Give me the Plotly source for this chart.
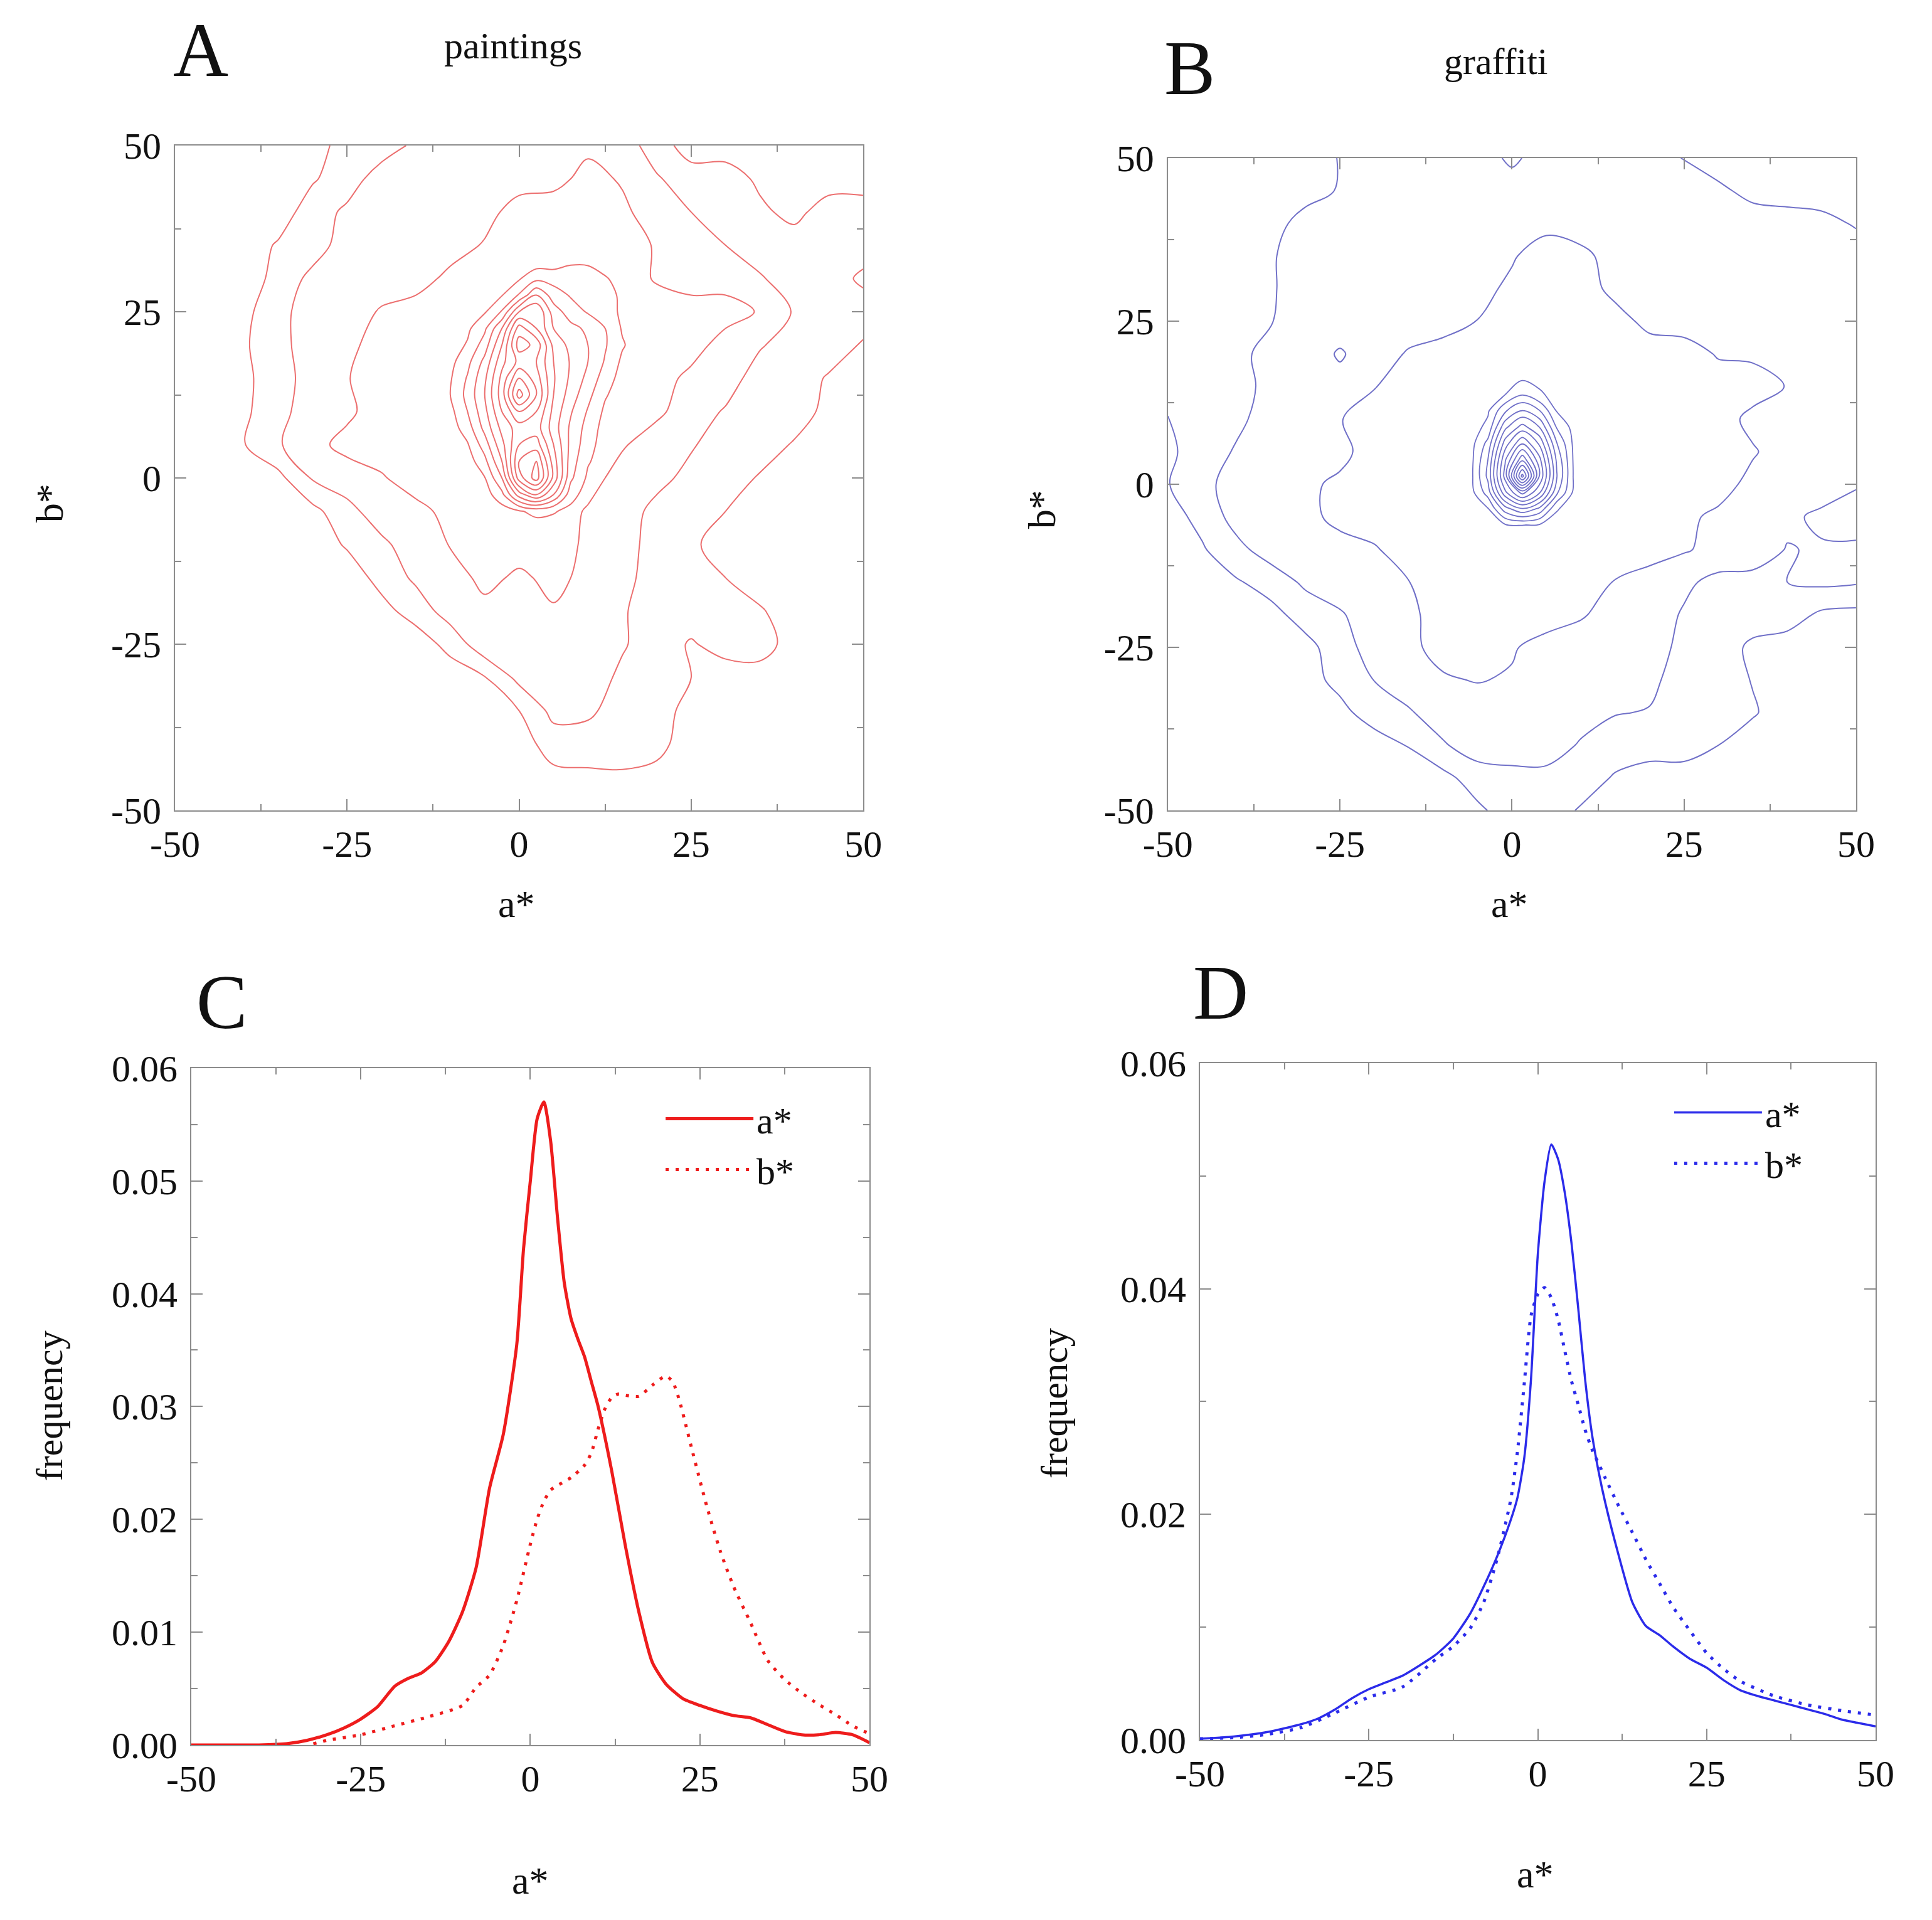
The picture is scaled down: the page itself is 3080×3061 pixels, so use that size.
import plotly.graph_objects as go

# ---------------- panels A / B : a*-b* density contours ----------------
# coarse density grid, rows listed from b* = 50 (top) down to b* = -50
grid_ab = [-50, -45, -40, -35, -30, -25, -20, -15, -10, -5, 0, 5, 10, 15, 20, 25, 30, 35, 40, 45, 50]

paint_outer = [
    [0, 0, 0, 0, 0, 1, 1, 1.7, 2, 2, 2, 2, 2.3, 2, 1, 0, 0, 0, 0, 0, 0],
    [0, 0, 0, 0, 0.4, 1, 2, 2, 2, 2, 2, 2.2, 2.8, 2.4, 1.6, 1, 1, 0.3, 0, 0, 0],
    [0, 0, 0, 0, 1, 1.7, 2, 2, 2, 2.1, 3, 3, 3, 2.7, 2, 1.5, 1, 0.7, 0.2, 1, 1],
    [0, 0, 0, 0.6, 1, 2, 2, 2, 2, 2.6, 3, 3, 3, 3, 2.4, 2, 1.5, 1, 1, 1, 1],
    [0, 0, 0, 0.8, 1.8, 2, 2, 2, 2.8, 3, 3, 3, 3, 3, 2.4, 2, 2, 1.6, 1, 1, 0.3],
    [0, 0, 0.3, 1, 2.3, 2, 2.6, 3, 3, 3, 3, 3, 3, 3, 3, 3, 3, 2.4, 1.4, 1, 1],
    [0, 0, 0.4, 1, 2.3, 2.2, 3, 3, 3, 3, 3, 3, 3, 3, 3, 3, 2, 1.6, 1, 1, 0.4],
    [0, 0, 0.3, 1, 2, 2.45, 3, 3, 3, 3, 3, 3, 3, 3, 3, 2.2, 2, 1, 1, 0.4, 0],
    [0, 0, 0.3, 1.2, 2, 2.3, 3, 3, 3, 3, 3, 3, 3, 3, 2.7, 2, 1.4, 1, 1, 0.2, 0],
    [0, 0, 0.45, 1.4, 2.2, 2.8, 3, 3, 3, 3, 3, 3, 3, 2.6, 2, 1.6, 1, 1, 0.4, 0, 0],
    [0, 0, 0, 0.2, 1.6, 2, 2.4, 3, 3, 3, 3, 3, 2.9, 2.1, 1.8, 1.2, 1, 0.4, 0, 0, 0],
    [0, 0, 0, 0, 0.2, 1.2, 2, 2.2, 2.8, 3, 3, 3, 2.4, 2, 1.2, 1, 0.5, 0, 0, 0, 0],
    [0, 0, 0, 0, 0, 0.6, 1.3, 2, 2.55, 3, 3, 3, 2.3, 1.8, 1.2, 0.7, 0, 0, 0, 0, 0],
    [0, 0, 0, 0, 0, 0, 0.8, 1.7, 2, 2.8, 2.3, 2.8, 2.2, 1.7, 1.2, 1, 0.5, 0, 0, 0, 0],
    [0, 0, 0, 0, 0, 0, 0.2, 0.9, 2, 2.2, 2, 2.4, 2, 1.6, 1, 1, 1, 0.6, 0, 0, 0],
    [0, 0, 0, 0, 0, 0, 0, 0, 0.8, 2.2, 2, 2, 2, 1.6, 1, 0.4, 0.9, 1, 0, 0, 0],
    [0, 0, 0, 0, 0, 0, 0, 0, 0, 0.45, 1.8, 2, 2, 1.3, 1, 0.5, 0, 0, 0, 0, 0],
    [0, 0, 0, 0, 0, 0, 0, 0, 0, 0, 0.5, 1.8, 1.7, 1, 1, 0.1, 0, 0, 0, 0, 0],
    [0, 0, 0, 0, 0, 0, 0, 0, 0, 0, 0, 1, 1, 1, 0.8, 0, 0, 0, 0, 0, 0],
    [0, 0, 0, 0, 0, 0, 0, 0, 0, 0, 0, 0.2, 0.3, 0.35, 0.2, 0, 0, 0, 0, 0, 0],
    [0, 0, 0, 0, 0, 0, 0, 0, 0, 0, 0, 0, 0, 0, 0, 0, 0, 0, 0, 0, 0],
]

# finer grid around the paintings peak cluster (b* from 35 down to -10)
paint_core_a = [-12.5, -10, -7.5, -5, -2.5, 0, 2.5, 5, 7.5, 10, 12.5, 15, 17.5]
paint_core_b = [35, 32.5, 30, 27.5, 25, 22.5, 20, 17.5, 15, 12.5, 10, 7.5, 5, 2.5, 0, -2.5, -5, -7.5, -10]
paint_core = [
    [3, 3, 3, 3, 3, 3, 3, 3, 3, 3, 3, 3, 3],
    [3, 3, 3, 3, 3, 3, 3, 3, 3.3, 3.3, 3, 3, 3],
    [3, 3, 3, 3, 3.2, 3.4, 4.2, 4.1, 4.3, 4.2, 3.6, 3.1, 3],
    [3, 3, 3, 3, 3.45, 4.6, 6.5, 5, 4.4, 4.3, 4.1, 3.2, 3],
    [3, 3, 3, 3.4, 4.6, 7.5, 8.5, 6, 5, 4.4, 4, 3.3, 3],
    [3, 3, 3.3, 4.3, 6.5, 10, 8.5, 6.5, 5.8, 5.3, 4.5, 3.4, 3],
    [3, 3, 3.6, 5, 7.5, 11, 10.2, 7.2, 6.2, 5.5, 4.6, 3.6, 3],
    [3, 3.2, 4.2, 5.8, 8.2, 9.8, 9.5, 7.5, 6.4, 5.5, 4.4, 3.3, 3],
    [3, 3.4, 4.6, 6.3, 8.8, 11.5, 10, 7.6, 6.3, 5.2, 4, 3.1, 3],
    [3, 3.5, 4.8, 6.5, 9, 13, 10.5, 7.5, 6, 4.8, 3.6, 3, 3],
    [3, 3.2, 4.5, 6.2, 8.5, 10.5, 9.5, 7.2, 5.6, 4.4, 3.3, 3, 3],
    [3, 3, 4, 5.8, 7.8, 9, 9, 7, 5.3, 4.1, 3.1, 3, 3],
    [3, 3, 3.4, 5, 7.2, 9.5, 10, 7.5, 5.2, 3.9, 3, 3, 3],
    [3, 3, 3, 4.2, 6.5, 10.5, 11.5, 8, 5, 3.6, 3, 3, 3],
    [3, 3, 3, 3.45, 5.5, 10, 12, 8.2, 4.7, 3.3, 3, 3, 3],
    [3, 3, 3, 3, 4.2, 7, 8.5, 6.5, 3.9, 3, 3, 3, 3],
    [3, 3, 3, 3, 3, 3.4, 3.8, 3.6, 3.2, 3, 3, 3, 3],
    [3, 3, 3, 3, 3, 3, 3, 3, 3, 3, 3, 3, 3],
    [3, 3, 3, 3, 3, 3, 3, 3, 3, 3, 3, 3, 3],
]

graf_outer = [
    [1, 1, 1, 1, 1, 1.55, 2, 2, 2, 2, 2.7, 2, 2, 2, 2, 1.45, 1, 1, 1, 1, 1],
    [1, 1, 1, 1, 1, 1.6, 2, 2, 2, 2, 2, 2, 2, 2, 2, 2, 1.7, 1.2, 1, 1, 1],
    [1, 1, 1, 1, 2, 2, 2, 2, 2, 2, 2.1, 2.2, 2.1, 2, 2, 2, 2, 2, 2, 1.8, 1.4],
    [1, 1, 1, 1.4, 2, 2, 2, 2, 2, 2, 2.4, 3, 2.7, 2.2, 2, 2, 2, 2, 2, 2, 2],
    [1, 1, 1, 1.4, 2, 2, 2, 2, 2, 2.2, 2.7, 3, 3, 2.2, 2, 2, 2, 2, 2, 2, 2],
    [1, 1, 1, 1.45, 2, 2, 2, 2, 2, 2.52, 3, 3, 3, 2.9, 2.2, 2, 2, 2, 2, 2, 2],
    [1, 1, 1.1, 2, 2, 2.6, 2, 2.6, 3, 3, 3, 3, 3, 3, 3, 3, 2.4, 2.3, 2.4, 2, 2],
    [1, 1, 1, 1.9, 2, 2.2, 2.45, 3, 3, 3, 3, 3, 3, 3, 3, 3, 3, 3, 2.45, 2, 2],
    [0.45, 1, 1.3, 1.9, 2, 2.45, 3, 3, 3, 3, 3, 3, 3, 3, 3, 3, 3, 2.2, 2, 2, 2],
    [0.3, 1, 1.6, 2, 2, 2.2, 3, 3, 3, 3, 3, 3, 3, 3, 3, 3, 3, 2.6, 2, 2, 2],
    [0.45, 1.3, 1.8, 2, 2.3, 2.7, 3, 3, 3, 3, 3, 3, 3, 3, 3, 3, 2.9, 2.2, 2, 2, 1.6],
    [0.1, 0.8, 1.9, 2, 2.2, 2.8, 3, 3, 3, 3, 3, 3, 3, 3, 3, 2.7, 2.3, 2, 1.7, 1.3, 1],
    [0, 0.4, 1.2, 2, 2, 2.1, 2.4, 3, 3, 3, 3, 3, 3, 3, 3, 2.6, 2.2, 2, 1.45, 1.6, 1.7],
    [0, 0, 0.4, 0.9, 1.7, 2, 2, 2.48, 3, 3, 3, 3, 3, 2.45, 2, 1.7, 1.2, 1.2, 1.5, 1.7, 1.6],
    [0, 0, 0, 0.2, 0.9, 1.4, 2, 2.3, 2.9, 3, 3, 3, 2.6, 2.1, 2, 1.4, 1, 1, 1, 0.3, 0.2],
    [0, 0, 0, 0, 0.2, 1, 2, 2.3, 2.8, 2.9, 2.6, 2.1, 2, 2, 2, 1.2, 1, 0.3, 0, 0, 0],
    [0, 0, 0, 0, 0.1, 0.8, 1.52, 2, 2.4, 2.55, 2.4, 2, 2, 2, 1.7, 1.1, 1, 0.45, 0, 0, 0],
    [0, 0, 0, 0, 0, 0.2, 1, 1.4, 2, 2, 2, 2, 1.9, 1.55, 1.45, 1, 1, 0.6, 0, 0, 0],
    [0, 0, 0, 0, 0, 0, 0, 0.55, 1.4, 2, 2, 2, 1.4, 1, 1, 1, 0.5, 0, 0, 0, 0],
    [0, 0, 0, 0, 0, 0, 0, 0, 0.2, 1, 1.2, 1.2, 1, 0.4, 0, 0, 0, 0, 0, 0, 0],
    [0, 0, 0, 0, 0, 0, 0, 0, 0, 0.3, 1, 1, 0.4, 0, 0, 0, 0, 0, 0, 0, 0],
]

# finer grid around the graffiti peak (b* from 18.75 down to -8.75)
graf_core_a = [-8.5, -6, -3.5, -1, 1.5, 4, 6.5, 9, 11.5]
graf_core_b = [18.75, 16.25, 13.75, 11.25, 8.75, 6.25, 3.75, 1.25, -1.25, -3.75, -6.25, -8.75]
graf_core = [
    [3, 3, 3, 3, 3.07, 3, 3, 3, 3],
    [3, 3, 3, 3.24, 3.35, 3.26, 3, 3, 3],
    [3, 3, 3.17, 3.49, 4.42, 3.62, 3.23, 3, 3],
    [3, 3, 3.36, 5.36, 6.59, 5.56, 3.44, 3, 3],
    [3, 3, 3.77, 7.24, 8.92, 7.48, 4.42, 3.15, 3],
    [3, 3.1, 4.81, 8.98, 11.42, 9.32, 5.56, 3.26, 3],
    [3, 3.16, 5.5, 10.36, 14.29, 10.81, 6.32, 3.32, 3],
    [3, 3.19, 5.74, 10.91, 17.9, 11.42, 6.59, 3.35, 3],
    [3, 3.12, 4.97, 9.26, 11.93, 9.64, 5.74, 3.27, 3],
    [3, 3, 3.43, 6.07, 7.43, 6.26, 3.58, 3.07, 3],
    [3, 3, 3.07, 3.38, 3.52, 3.4, 3.14, 3, 3],
    [3, 3, 3, 3, 3, 3, 3, 3, 3],
]

# ---------------- panels C / D : frequency curves ----------------
paint_a_x = [-50, -40, -36, -33, -30, -27.5, -25, -22.5, -20, -18, -16, -14, -12, -10, -8, -6, -4, -2,
             -1, 0, 1, 2, 3, 4, 5, 6, 7, 8, 9, 10, 12, 14, 16, 18, 20, 22.5, 25, 27.5, 30, 32.5, 35,
             37.5, 40, 42.5, 45, 47.5, 50]
paint_a_f = [0, 0, 0.0001, 0.0004, 0.0009, 0.0015, 0.0023, 0.0034, 0.0052, 0.0059, 0.0064, 0.0074,
             0.0092, 0.0118, 0.0157, 0.0228, 0.0275, 0.0355, 0.044, 0.050, 0.0555, 0.057, 0.0535,
             0.0468, 0.041, 0.0378, 0.036, 0.0344, 0.0322, 0.030, 0.0243, 0.0177, 0.0118, 0.0073,
             0.0054, 0.0041, 0.0035, 0.003, 0.0026, 0.0024, 0.0018, 0.0012, 0.0009, 0.0009, 0.0011,
             0.0009, 0.0002]
paint_b_x = [-32, -30, -25, -20, -15, -10, -8, -6, -4, -2, 0, 1, 2, 3, 4, 6, 8, 9, 10, 11, 12, 13, 14,
             16, 18, 20, 21, 22, 24, 26, 28, 30, 32.5, 35, 37.5, 40, 42.5, 45, 47.5, 50]
paint_b_f = [0.0001, 0.0004, 0.0009, 0.0017, 0.0025, 0.0035, 0.0051, 0.0062, 0.0088, 0.0128, 0.0178,
             0.0200, 0.0216, 0.0226, 0.023, 0.0237, 0.0248, 0.0259, 0.028, 0.0298, 0.0308, 0.0311,
             0.031, 0.0309, 0.0319, 0.0327, 0.0322, 0.0305, 0.0258, 0.0212, 0.0172, 0.014, 0.0108,
             0.0075, 0.0058, 0.0046, 0.0036, 0.0027, 0.0017, 0.001]

graf_a_x = [-50, -45, -40, -35, -32.5, -30, -27.5, -25, -22.5, -20, -17.5, -15, -12.5, -10, -8, -6, -4,
            -3, -2, -1, 0, 1, 2, 3, 4, 5, 6, 7, 8, 9, 10, 12, 14, 16, 18, 20, 22.5, 25, 27.5, 30, 32.5,
            35, 37.5, 40, 42.5, 45, 47.5, 50]
graf_a_f = [0.0001, 0.0003, 0.0007, 0.0014, 0.0019, 0.0027, 0.0037, 0.0045, 0.0051, 0.0057, 0.0066,
            0.0076, 0.009, 0.0112, 0.0136, 0.0163, 0.0195, 0.0215, 0.025, 0.032, 0.043, 0.0495, 0.0528,
            0.0515, 0.0485, 0.044, 0.0382, 0.032, 0.0272, 0.0238, 0.021, 0.0163, 0.0122, 0.0101,
            0.0093, 0.0083, 0.0072, 0.0064, 0.0053, 0.0044, 0.0039, 0.0035, 0.0031, 0.0027, 0.0023,
            0.0018, 0.0015, 0.0012]
graf_b_x = [-50, -45, -40, -35, -30, -25, -20, -15, -12.5, -10, -8, -6, -4, -3, -2, -1, 0, 1, 2, 3, 4,
            5, 6, 7, 8, 9, 10, 12, 14, 16, 18, 20, 22.5, 25, 27.5, 30, 35, 40, 45, 50]
graf_b_f = [0.0001, 0.0002, 0.0005, 0.0011, 0.0024, 0.0038, 0.0047, 0.0072, 0.0083, 0.0099, 0.0122,
            0.0161, 0.0213, 0.0256, 0.0316, 0.0376, 0.0395, 0.0401, 0.0392, 0.0373, 0.0345, 0.0318,
            0.0297, 0.0275, 0.0258, 0.0245, 0.0232, 0.0207, 0.0184, 0.016, 0.0139, 0.0118, 0.0097,
            0.0077, 0.0063, 0.0052, 0.0039, 0.0031, 0.0026, 0.0022]

ab_ticks = [-50, -25, 0, 25, 50]
ab_ticktext = ["-50", "-25", "0", "25", "50"]
freq_ticks_c = [0, 0.01, 0.02, 0.03, 0.04, 0.05, 0.06]
freq_ticks_d = [0, 0.02, 0.04, 0.06]

RED_C = "#ec6f6f"
BLUE_C = "#7070c8"
RED = "#ee1c1c"
BLUE = "#2b2bea"
GRAY = "#8c8c8c"
FONT = "Liberation Serif, Times New Roman, serif"

fig = go.Figure()


def contour(x, y, z, start, end, color, ax, width=2.0):
    return go.Contour(
        x=x, y=y, z=z, xaxis="x" + ax, yaxis="y" + ax,
        contours=dict(coloring="lines", start=start, end=end, size=1),
        colorscale=[[0, color], [1, color]], showscale=False,
        line=dict(width=width, smoothing=1.0), hoverinfo="skip",
    )


fig.add_trace(contour(grid_ab, grid_ab, paint_outer[::-1], 0.5, 2.5, RED_C, ""))
fig.add_trace(contour(paint_core_a, paint_core_b[::-1], paint_core[::-1], 3.5, 12.5, RED_C, ""))
fig.add_trace(contour(grid_ab, grid_ab, graf_outer[::-1], 0.5, 2.5, BLUE_C, "2"))
fig.add_trace(contour(graf_core_a, graf_core_b[::-1], graf_core[::-1], 3.5, 17.5, BLUE_C, "2", 1.8))

fig.add_trace(go.Scatter(x=paint_a_x, y=paint_a_f, mode="lines", name="a*", xaxis="x3", yaxis="y3",
                         line=dict(color=RED, width=5, shape="spline", smoothing=0.6), legend="legend"))
fig.add_trace(go.Scatter(x=paint_b_x, y=paint_b_f, mode="lines", name="b*", xaxis="x3", yaxis="y3",
                         line=dict(color=RED, width=5, dash="5px,11px", shape="spline", smoothing=0.6),
                         legend="legend"))
fig.add_trace(go.Scatter(x=graf_a_x, y=graf_a_f, mode="lines", name="a*", xaxis="x4", yaxis="y4",
                         line=dict(color=BLUE, width=3.5, shape="spline", smoothing=0.6), legend="legend2"))
fig.add_trace(go.Scatter(x=graf_b_x, y=graf_b_f, mode="lines", name="b*", xaxis="x4", yaxis="y4",
                         line=dict(color=BLUE, width=5, dash="5px,11px", shape="spline", smoothing=0.6),
                         legend="legend2"))

tick_font = dict(family=FONT, size=60, color="#111111")
axis_common = dict(
    showline=True, linecolor=GRAY, linewidth=2, mirror="ticks", ticks="inside",
    ticklen=18, tickwidth=2, tickcolor=GRAY, showgrid=False, zeroline=False,
    tickfont=tick_font, fixedrange=True, automargin=False,
)


def ab_axis(domain, anchor):
    return dict(axis_common, domain=domain, anchor=anchor, range=[-50, 50],
                tickmode="array", tickvals=ab_ticks, ticktext=ab_ticktext,
                minor=dict(tickmode="linear", tick0=-50, dtick=12.5, ticks="inside",
                           ticklen=10, tickwidth=2, tickcolor=GRAY))


def freq_axis(domain, anchor, ticks, minor_step):
    return dict(axis_common, domain=domain, anchor=anchor, range=[0, 0.06],
                tickmode="array", tickvals=ticks, tickformat=".2f",
                minor=dict(tickmode="linear", tick0=0, dtick=minor_step, ticks="inside",
                           ticklen=10, tickwidth=2, tickcolor=GRAY))


fig.update_layout(
    width=3080, height=3061,
    margin=dict(l=0, r=0, t=0, b=0, pad=0, autoexpand=False),
    paper_bgcolor="white", plot_bgcolor="white",
    font=dict(family=FONT, size=60, color="#111111"),
    xaxis=ab_axis([0.0880, 0.4442], "y"),
    yaxis=ab_axis([0.5805, 0.9268], "x"),
    xaxis2=ab_axis([0.6019, 0.9581], "y2"),
    yaxis2=ab_axis([0.5805, 0.9203], "x2"),
    xaxis3=ab_axis([0.0964, 0.4474], "y3"),
    yaxis3=freq_axis([0.0938, 0.4463], "x3", freq_ticks_c, 0.005),
    xaxis4=ab_axis([0.6185, 0.9682], "y4"),
    yaxis4=freq_axis([0.0964, 0.4489], "x4", freq_ticks_d, 0.01),
    legend=dict(x=0.3403, y=0.4348, xanchor="left", yanchor="top", bgcolor="rgba(0,0,0,0)",
                font=dict(family=FONT, size=60), itemwidth=140, tracegroupgap=6),
    legend2=dict(x=0.8623, y=0.4381, xanchor="left", yanchor="top", bgcolor="rgba(0,0,0,0)",
                 font=dict(family=FONT, size=60), itemwidth=140, tracegroupgap=6),
)
fig.update_xaxes(ticklabelstandoff=0)
fig.update_yaxes(ticklabelstandoff=8)

labels = [
    ("A", 0.1013, 0.9768, 122, 0), ("B", 0.6133, 0.9673, 122, 0),
    ("C", 0.1123, 0.4806, 122, 0), ("D", 0.6292, 0.4855, 122, 0),
    ("paintings", 0.2630, 0.9788, 60, 0), ("graffiti", 0.7718, 0.9706, 60, 0),
    ("a*", 0.2649, 0.5319, 62, 0), ("a*", 0.7786, 0.5319, 62, 0),
    ("b*", 0.0231, 0.7406, 62, -90), ("b*", 0.5367, 0.7373, 62, -90),
    ("a*", 0.2718, 0.0232, 62, 0), ("a*", 0.7922, 0.0265, 62, 0),
    ("frequency", 0.0231, 0.2705, 60, -90), ("frequency", 0.5432, 0.2718, 60, -90),
]
for text, x, y, size, angle in labels:
    fig.add_annotation(text=text, x=x, y=y, xref="paper", yref="paper", showarrow=False,
                       xanchor="center", yanchor="middle", textangle=angle,
                       font=dict(family=FONT, size=size, color="#111111"))

fig.write_html("out.html")
